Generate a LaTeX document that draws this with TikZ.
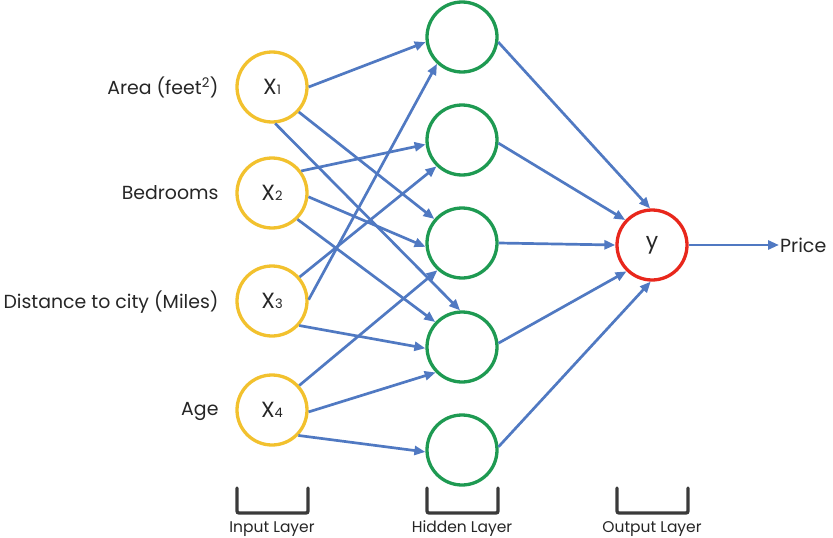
\documentclass[tikz,border=0pt]{standalone}
\usepackage{fontspec}
\setmainfont{Poppins}
\usetikzlibrary{arrows.meta}
\definecolor{inyellow}{HTML}{F2C12E}
\definecolor{hidgreen}{HTML}{1E9A52}
\definecolor{outred}{HTML}{E8271C}
\definecolor{linkblue}{HTML}{5079C2}
\definecolor{textgray}{HTML}{262626}
\definecolor{brackgray}{HTML}{3A3A3A}
\newcommand{\inlbl}[1]{X{\fontsize{13}{13}\selectfont #1}}
\begin{document}
\begin{tikzpicture}[x=1pt,y=-1pt,
  neuron/.style={circle,line width=3.3pt,minimum size=70pt,inner sep=0pt,fill=white,
                 text=textgray,font=\fontsize{22}{24}\selectfont},
  inneuron/.style={neuron,draw=inyellow},
  hidneuron/.style={neuron,draw=hidgreen},
  outneuron/.style={neuron,draw=outred},
  link/.style={draw=linkblue,line width=2.7pt,-{Triangle[length=11pt,width=9pt]}},
  feat/.style={anchor=east,text=textgray,font=\fontsize{18.9}{21}\selectfont},
  bracket/.style={draw=brackgray,line width=3.3pt,line cap=round,rounded corners=2pt},
  layerlbl/.style={text=textgray,font=\fontsize{15.5}{18}\selectfont}]
\useasboundingbox (0,0) rectangle (833,538);

% input layer
\node[inneuron] (x1) at (272,87)  {\inlbl{1}};
\node[inneuron] (x2) at (272,193) {\inlbl{2}};
\node[inneuron] (x3) at (272,301) {\inlbl{3}};
\node[inneuron] (x4) at (272,410) {\inlbl{4}};

% hidden layer
\node[hidneuron] (h1) at (462,37)  {};
\node[hidneuron] (h2) at (462,140) {};
\node[hidneuron] (h3) at (462,243) {};
\node[hidneuron] (h4) at (462,347) {};
\node[hidneuron] (h5) at (462,450) {};

% output layer
\node[outneuron] (y) at (652,245) {y};

% feature labels
\node[feat] (f1) at (222,87)  {Area (feet\textsuperscript{2})};
\node[feat] (f2) at (222,193) {Bedrooms};
\node[feat] (f3) at (222,302) {Distance to city (Miles)};
\node[feat] (f4) at (222,411) {Age};
\node[anchor=west,inner sep=1pt,text=textgray,font=\fontsize{19}{22}\selectfont] (price) at (779,245) {Price};

% input -> hidden
\draw[link] (x1.0)   -- (h1.188);
\draw[link] (x1.-43) -- (h3.139);
\draw[link] (x1.-85) -- (h4.93);
\draw[link] (x2.37)  -- (h2.187);
\draw[link] (x2.-6)  -- (h3.186);
\draw[link] (x2.-46) -- (h4.137);
\draw[link] (x3.2)   -- (h1.227);
\draw[link] (x3.41)  -- (h2.226);
\draw[link] (x3.-42) -- (h4.182);
\draw[link] (x4.42)  -- (h3.228);
\draw[link] (x4.-3)  -- (h4.224);
\draw[link] (x4.-44) -- (h5.183);

% hidden -> output
\draw[link] (h1.-8) -- (y.93);
\draw[link] (h2.-5) -- (y.137);
\draw[link] (h3.0)  -- (y.180);
\draw[link] (h4.6)  -- (y.226);
\draw[link] (h5.5)  -- (y.268);

% output -> price
\draw[link] (y.0) -- (price.west);

% layer brackets
\draw[bracket] (237,488) -- (237,513) -- (308,513) -- (308,488);
\draw[bracket] (427,488) -- (427,513) -- (498,513) -- (498,488);
\draw[bracket] (617,488) -- (617,513) -- (688,513) -- (688,488);
\node[layerlbl] (l1) at (272,529) {Input Layer};
\node[layerlbl] (l2) at (462,529) {Hidden Layer};
\node[layerlbl] (l3) at (652,529) {Output Layer};
\end{tikzpicture}
\end{document}
